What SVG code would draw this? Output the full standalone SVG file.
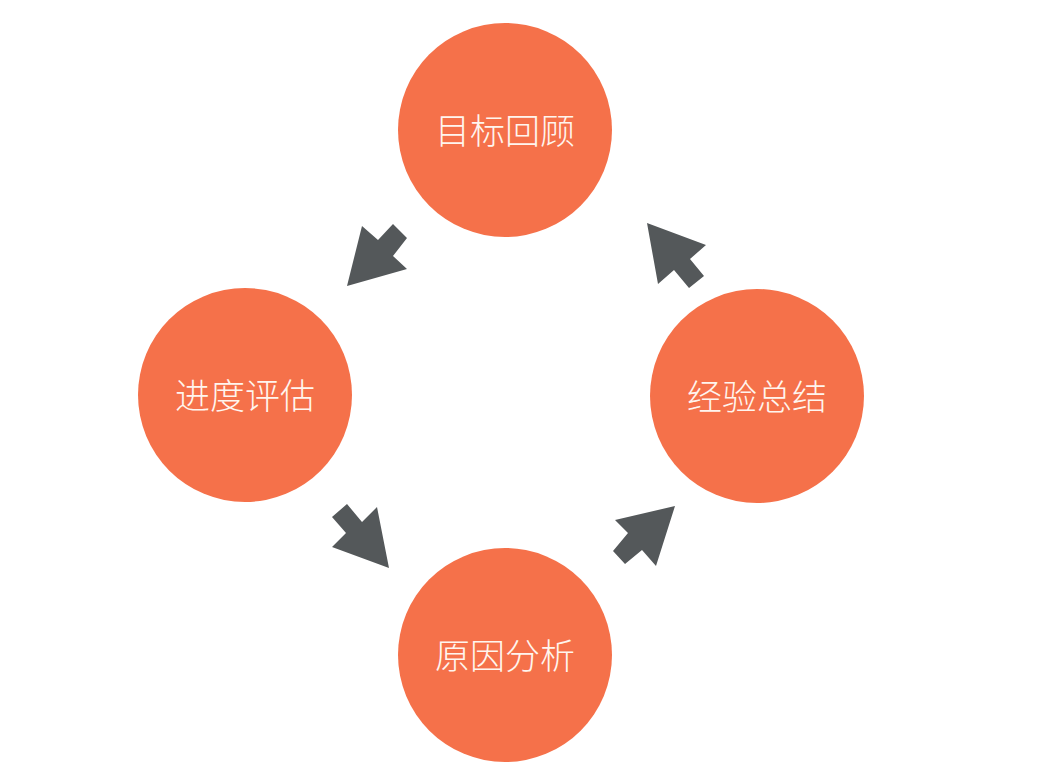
<svg xmlns="http://www.w3.org/2000/svg" width="1042" height="770" viewBox="0 0 1042 770">
<style>
.c{fill:#F5714A}
.t{fill:#FFF5EE;font-family:"Noto Sans CJK SC","Noto Sans",sans-serif;font-size:35px;font-weight:300;text-anchor:middle}
.a{fill:#54585A}
</style>
<rect width="1042" height="770" fill="#FFFFFF"/>
<g id="node-top"><circle class="c" cx="505" cy="130" r="107"/><text class="t" x="505" y="144">目标回顾</text></g>
<g id="node-left"><circle class="c" cx="245" cy="395" r="107"/><text class="t" x="245" y="409">进度评估</text></g>
<g id="node-right"><circle class="c" cx="757" cy="396" r="107"/><text class="t" x="757" y="410">经验总结</text></g>
<g id="node-bottom"><circle class="c" cx="505" cy="655" r="107"/><text class="t" x="505" y="669">原因分析</text></g>
<g id="connectors">
<polygon class="a" points="347,286 362,226 378,240 393,224 407,238 393,256 407,269"/>
<polygon class="a" points="647,223 706,245 690,259 704,276 689,288 674,270 658,284"/>
<polygon class="a" points="389,568 377,507 362,522 347,504 332,517 346,533 332,547"/>
<polygon class="a" points="675,506 615,520 628,533 613,551 625,564 642,550 656,566"/>
</g>
</svg>
